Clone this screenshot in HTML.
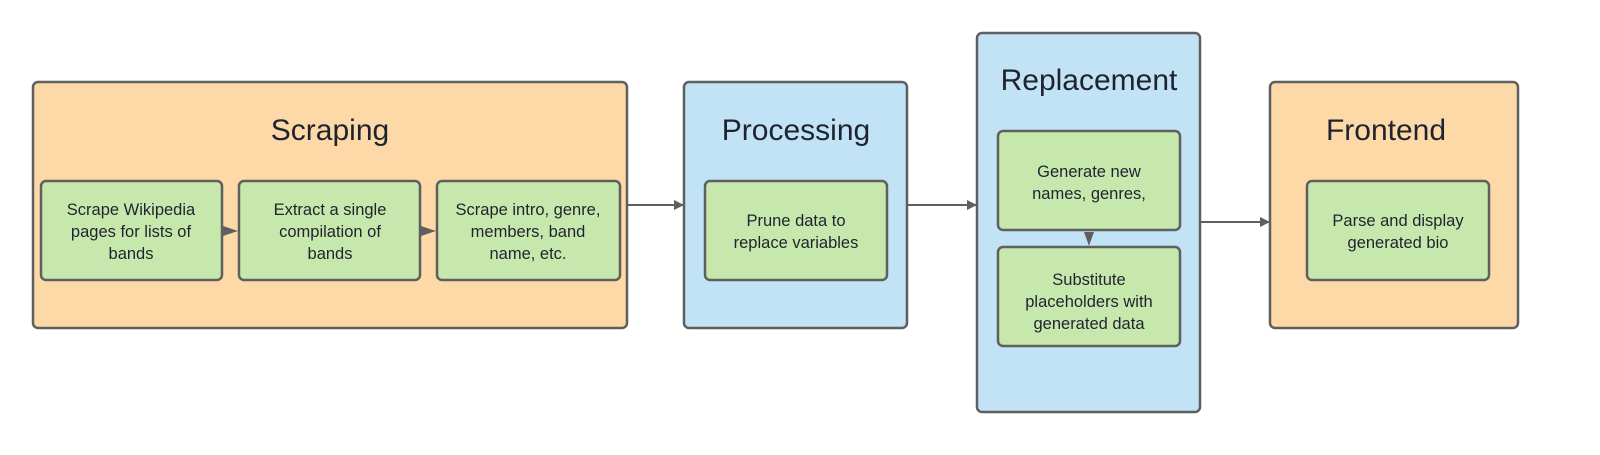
<!DOCTYPE html>
<html><head><style>html,body{margin:0;padding:0;background:#fff;overflow:hidden;width:1600px;height:455px;}svg{display:block;}</style></head>
<body>
<svg width="1600" height="455" viewBox="0 0 1600 455" xmlns="http://www.w3.org/2000/svg" font-family="Liberation Sans, sans-serif">
<defs>
<marker id="a" markerWidth="10" markerHeight="10" refX="9" refY="5" orient="auto" markerUnits="userSpaceOnUse"><path d="M0,0 L10,5 L0,10 z" fill="#5f5f5f"/></marker>
</defs>
<g stroke="#5f5f5f" stroke-width="2.5">
<rect x="33" y="82" width="594" height="246" rx="5" fill="#fed9a8"/>
<rect x="684" y="82" width="223" height="246" rx="5" fill="#c2e3f6"/>
<rect x="977" y="33" width="223" height="379" rx="5" fill="#c2e3f6"/>
<rect x="1270" y="82" width="248" height="246" rx="5" fill="#fed9a8"/>
<g fill="#c7e8ac">
<rect x="41" y="181" width="181" height="99" rx="5"/>
<rect x="239" y="181" width="181" height="99" rx="5"/>
<rect x="437" y="181" width="183" height="99" rx="5"/>
<rect x="705" y="181" width="182" height="99" rx="5"/>
<rect x="998" y="131" width="182" height="99" rx="5"/>
<rect x="998" y="247" width="182" height="99" rx="5"/>
<rect x="1307" y="181" width="182" height="99" rx="5"/>
</g>
</g>
<g stroke="#5f5f5f" stroke-width="2" fill="none">
<line x1="628" y1="205" x2="683" y2="205" marker-end="url(#a)"/>
<line x1="908" y1="205" x2="976" y2="205" marker-end="url(#a)"/>
<line x1="1201" y1="222" x2="1269" y2="222" marker-end="url(#a)"/>
</g>
<g fill="#5f5f5f">
<path d="M223,226 L238,231 L223,236 z"/>
<path d="M421,226 L436,231 L421,236 z"/>
<path d="M1084,232 L1094,232 L1089,246 z"/>
</g>
<g fill="#1f2330" font-size="30" text-anchor="middle">
<text x="330" y="140">Scraping</text>
<text x="796" y="140">Processing</text>
<text x="1089" y="90">Replacement</text>
<text x="1386" y="140">Frontend</text>
</g>
<g fill="#1f2330" font-size="16.5" text-anchor="middle">
<text x="131" y="215">Scrape Wikipedia</text><text x="131" y="237">pages for lists of</text><text x="131" y="259">bands</text>
<text x="330" y="215">Extract a single</text><text x="330" y="237">compilation of</text><text x="330" y="259">bands</text>
<text x="528" y="215">Scrape intro, genre,</text><text x="528" y="237">members, band</text><text x="528" y="259">name, etc.</text>
<text x="796" y="226">Prune data to</text><text x="796" y="248">replace variables</text>
<text x="1089" y="177">Generate new</text><text x="1089" y="199">names, genres,</text>
<text x="1089" y="285">Substitute</text><text x="1089" y="307">placeholders with</text><text x="1089" y="329">generated data</text>
<text x="1398" y="226">Parse and display</text><text x="1398" y="248">generated bio</text>
</g>
</svg>
</body></html>
